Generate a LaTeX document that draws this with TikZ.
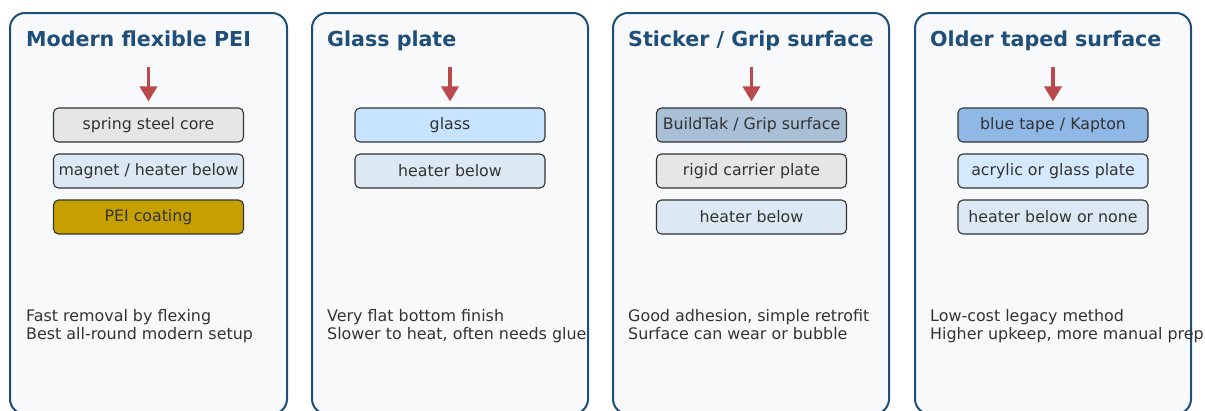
\documentclass[tikz,border=0pt]{standalone}
\usepackage{fontspec}
\setmainfont{DejaVu Sans}
\usetikzlibrary{arrows.meta}
\definecolor{panelfill}{HTML}{F8F9FB}
\definecolor{paneldraw}{HTML}{1F4E79}
\definecolor{txt}{HTML}{333333}
\definecolor{arrowred}{HTML}{B9494B}
\definecolor{cgrey}{HTML}{E6E6E6}
\definecolor{cheat}{HTML}{DCE9F5}
\definecolor{cpei}{HTML}{C6A000}
\definecolor{cglass}{HTML}{C6E4FF}
\definecolor{cbuild}{HTML}{A8BFD6}
\definecolor{ctape}{HTML}{8FB8E6}
\definecolor{cacryl}{HTML}{D4EAFC}
\tikzset{
  panel/.style={draw=paneldraw, line width=2pt, fill=panelfill, rounded corners=15pt},
  ptitle/.style={anchor=base west, inner sep=0pt, text=paneldraw, font=\fontsize{20.6}{24}\selectfont\bfseries},
  layer/.style={draw=txt, line width=1.1pt, rounded corners=5pt, minimum width=190pt, minimum height=34pt, inner sep=0pt, text=txt, font=\fontsize{15.8}{18}\selectfont},
  note/.style={anchor=base west, inner sep=0pt, text=txt, font=\fontsize{15.9}{18}\selectfont},
  down/.style={draw=arrowred, line width=3.5pt, -{Triangle[width=17pt,length=15pt]}},
}
\begin{document}
\begin{tikzpicture}[x=1pt,y=-1pt]
\useasboundingbox (0,0) rectangle (1205,410);
% panel 1
\path[panel] (10,13) rectangle (287,414);
\node[ptitle] (t1) at (26,46) {Modern flexible PEI};
\node[layer, fill=cgrey] (a1) at (148.5,125) {spring steel core};
\node[layer, fill=cheat] (b1) at (148.5,171) {magnet / heater below};
\node[layer, fill=cpei] (c1) at (148.5,217) {PEI coating};
\coordinate (s1) at (148.5,67);
\draw[down] (s1) -- ([yshift=6pt]a1.north);
\node[note] (n1a) at (26,321) {Fast removal by flexing};
\node[note] (n1b) at (26,339) {Best all-round modern setup};
% panel 2
\path[panel] (312,13) rectangle (588,414);
\node[ptitle] (t2) at (327,46) {Glass plate};
\node[layer, fill=cglass] (a2) at (450,125) {glass};
\node[layer, fill=cheat] (b2) at (450,171) {heater below};
\coordinate (s2) at (450,67);
\draw[down] (s2) -- ([yshift=6pt]a2.north);
\node[note] (n2a) at (327,321) {Very flat bottom finish};
\node[note] (n2b) at (327,339) {Slower to heat, often needs glue};
% panel 3
\path[panel] (613,13) rectangle (889,414);
\node[ptitle] (t3) at (628,46) {Sticker / Grip surface};
\node[layer, fill=cbuild] (a3) at (751.5,125) {BuildTak / Grip surface};
\node[layer, fill=cgrey] (b3) at (751.5,171) {rigid carrier plate};
\node[layer, fill=cheat] (c3) at (751.5,217) {heater below};
\coordinate (s3) at (751.5,67);
\draw[down] (s3) -- ([yshift=6pt]a3.north);
\node[note] (n3a) at (628,321) {Good adhesion, simple retrofit};
\node[note] (n3b) at (628,339) {Surface can wear or bubble};
% panel 4
\path[panel] (915,13) rectangle (1191,414);
\node[ptitle] (t4) at (930,46) {Older taped surface};
\node[layer, fill=ctape] (a4) at (1053,125) {blue tape / Kapton};
\node[layer, fill=cacryl] (b4) at (1053,171) {acrylic or glass plate};
\node[layer, fill=cheat] (c4) at (1053,217) {heater below or none};
\coordinate (s4) at (1053,67);
\draw[down] (s4) -- ([yshift=6pt]a4.north);
\node[note] (n4a) at (930,321) {Low-cost legacy method};
\node[note] (n4b) at (930,339) {Higher upkeep, more manual prep};
\end{tikzpicture}
\end{document}
